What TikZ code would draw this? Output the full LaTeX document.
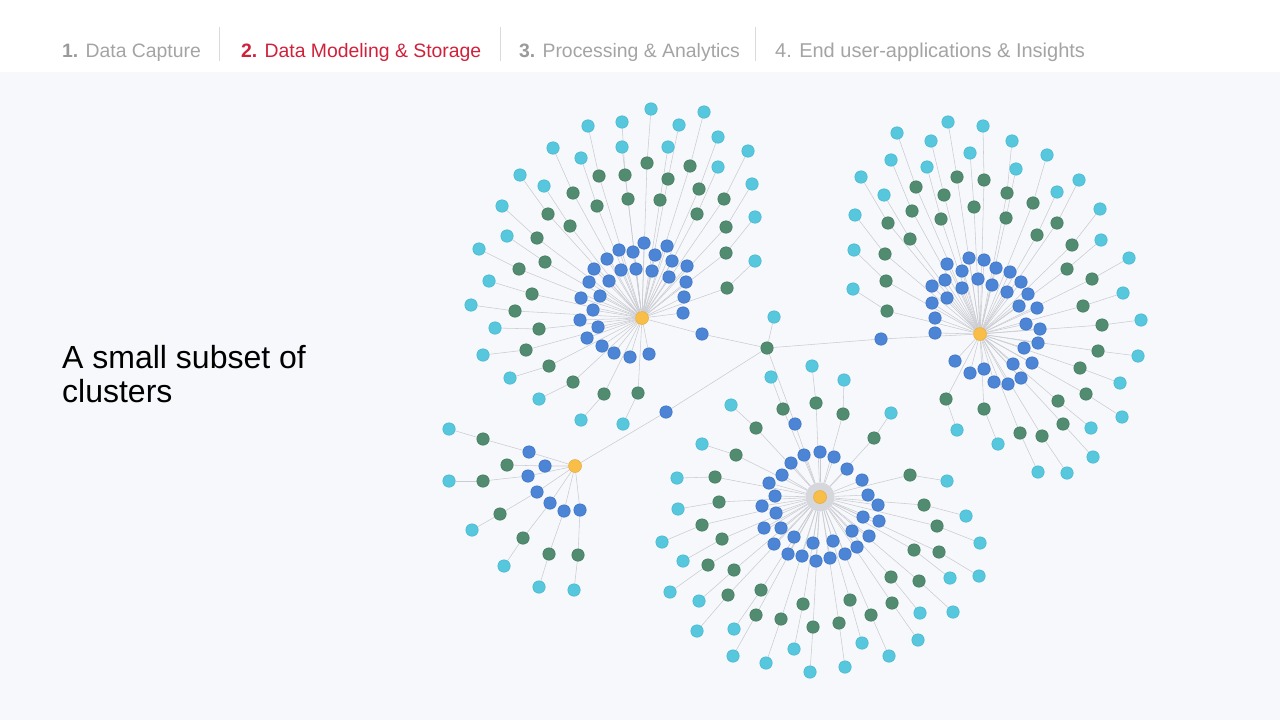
\documentclass[tikz,border=0pt]{standalone}
\usepackage{fontspec}
\setmainfont{Liberation Sans}
\pgfdeclarelayer{back}
\pgfdeclarelayer{edges}
\pgfsetlayers{back,edges,main}
\definecolor{bgc}{HTML}{F7F8FB}
\definecolor{bluen}{HTML}{4C84D6}
\definecolor{blueb}{HTML}{3D72C0}
\definecolor{greenn}{HTML}{528C70}
\definecolor{greenb}{HTML}{437A60}
\definecolor{tealn}{HTML}{57C7DD}
\definecolor{tealb}{HTML}{45B6CE}
\definecolor{yellown}{HTML}{F8BE48}
\definecolor{yellowb}{HTML}{E8AA35}
\definecolor{edgec}{HTML}{CACCD2}
\definecolor{haloc}{HTML}{D5D7DC}
\definecolor{tabgray}{HTML}{A4A4A4}
\definecolor{tabnum}{HTML}{9A9A9A}
\definecolor{tabred}{HTML}{D0213B}
\definecolor{sepc}{HTML}{DADADA}
\tikzset{
  nd/.style={circle,inner sep=0pt,minimum size=12.5pt,line width=0.5pt},
  bn/.style={nd,fill=bluen,draw=blueb},
  gn/.style={nd,fill=greenn,draw=greenb},
  tn/.style={nd,fill=tealn,draw=tealb},
  yn/.style={nd,fill=yellown,draw=yellowb,minimum size=13pt},
  ed/.style={draw=edgec,line width=0.55pt},
  tab/.style={anchor=base west,inner sep=0pt,font=\fontsize{19.4}{22}\selectfont,text=tabgray},
  sepline/.style={draw=sepc,line width=1pt},
  big/.style={anchor=base west,inner sep=0pt,font=\fontsize{32}{35}\selectfont,text=black}
}
\begin{document}
\begin{tikzpicture}[x=1pt,y=-1pt]
\useasboundingbox (0,0) rectangle (1280,720);
\begin{pgfonlayer}{back}
\fill[bgc] (0,0) rectangle (1280,720);
\fill[white] (0,0) rectangle (1280,72);
\end{pgfonlayer}
% header
\node[tab] (tab1) at (62,57) {\textbf{\color{tabnum}1.} Data Capture};
\node[tab,text=tabred] (tab2) at (241,57) {\textbf{2.} Data Modeling \& Storage};
\node[tab] (tab3) at (519,57) {\textbf{\color{tabnum}3.} Processing \& Analytics};
\node[tab,font=\fontsize{20}{22}\selectfont] (tab4) at (775,57) {4. End user-applications \& Insights};
\draw[sepline] (219,27) -- (219,61);
\draw[sepline] (500,27) -- (500,61);
\draw[sepline] (755,27) -- (755,61);
% left title
\node[big] (title1) at (62,368) {A small subset of};
\node[big] (title2) at (62,402) {clusters};

% ---------------- cluster A
\node[yn] (A) at (642,318) {};
\foreach \x/\y [count=\i] in {644/243,619/250,633/252,667/246,655/255,607/259,672/261,687/266,594/269,621/270,636/269,652/271,669/277,589/282,609/281,686/282,581/298,600/296,684/297,593/310,683/313,580/320,598/327,587/338,602/346,614/353,630/357,649/354}
  \node[bn] (Ab\i) at (\x,\y) {};
\foreach \gx/\gy/\tx/\ty [count=\i] in {647/163/651/109,690/166/704/112,599/176/588/126,625/175/622/122,628/199/622/147,668/179/679/125,660/200/668/147,699/189/718/137,697/214/718/167,724/199/748/151,573/193/553/148,597/206/581/158,548/214/520/175,570/226/544/186,726/227/752/184,537/238/502/206,545/262/507/236,726/253/755/217,519/269/479/249,727/288/755/261,532/294/489/281,515/311/471/305,539/329/495/328,526/350/483/355,549/366/510/378,573/382/539/399,604/394/581/420,638/393/623/424}
  {\node[gn] (Ag\i) at (\gx,\gy) {}; \node[tn] (At\i) at (\tx,\ty) {};}
\begin{pgfonlayer}{edges}
\foreach \i in {1,...,28} {\draw[ed] (A) -- (Ab\i); \draw[ed] (A) -- (Ag\i); \draw[ed] (Ag\i) -- (At\i);}
\end{pgfonlayer}

% ---------------- cluster B
\node[yn] (B) at (980,334) {};
\foreach \x/\y [count=\i] in {969/258,984/260,947/264,996/268,962/271,1010/272,978/279,945/280,992/285,1021/282,932/286,962/288,1007/292,1028/294,947/298,932/303,1019/306,1037/308,935/318,1026/324,1040/329,935/333,1024/348,1038/343,955/361,970/373,984/369,1013/364,1032/363,994/382,1008/384,1021/378}
  \node[bn] (Bb\i) at (\x,\y) {};
\foreach \gx/\gy/\tx/\ty [count=\i] in {957/177/948/122,984/180/983/126,916/187/897/133,944/195/931/141,1007/193/1012/141,974/207/970/153,1033/203/1047/155,912/211/891/160,941/219/927/167,1006/218/1016/169,888/223/861/177,910/239/884/195,1057/223/1079/180,1037/235/1057/192,1072/245/1100/209,885/254/855/215,1067/269/1101/240,886/281/854/250,1092/279/1129/258,887/311/853/289,1083/306/1123/293,1102/325/1141/320,1098/351/1138/356,1080/368/1120/383,1086/394/1122/417,1058/401/1091/428,1063/424/1093/457,1042/436/1067/473,1020/433/1038/472,984/409/998/444,946/399/957/430}
  {\node[gn] (Bg\i) at (\gx,\gy) {}; \node[tn] (Bt\i) at (\tx,\ty) {};}
\begin{pgfonlayer}{edges}
\foreach \i in {1,...,32} \draw[ed] (B) -- (Bb\i);
\foreach \i in {1,...,31} {\draw[ed] (B) -- (Bg\i); \draw[ed] (Bg\i) -- (Bt\i);}
\end{pgfonlayer}

% ---------------- cluster C
\node[circle,fill=haloc,inner sep=0pt,minimum size=29pt] (Ch) at (820,497) {};
\node[yn] (C) at (820,497) {};
\foreach \x/\y [count=\i] in {804/455,820/452,834/457,791/463,847/469,782/475,769/483,862/480,775/496,868/495,878/505,762/506,776/513,863/517,879/521,764/528,781/528,852/531,869/536,794/537,813/543,833/541,774/544,857/547,788/554,802/556,816/561,830/558,845/554}
  \node[bn] (Cb\i) at (\x,\y) {};
\foreach \gx/\gy/\tx/\ty [count=\i] in {783/409/771/377,816/403/812/366,843/414/844/380,756/428/731/405,874/438/891/413,736/455/702/444,910/475/947/481,715/477/677/478,924/505/966/516,719/502/678/509,937/526/980/543,702/525/662/542,914/550/950/578,939/552/979/576,722/539/683/561,708/565/670/592,734/570/699/601,891/577/920/613,919/581/953/612,728/595/697/631,761/590/734/629,892/603/918/640,850/600/862/643,871/615/889/656,803/604/794/649,756/615/733/656,781/619/766/663,839/623/845/667,813/627/810/672}
  {\node[gn] (Cg\i) at (\gx,\gy) {}; \node[tn] (Ct\i) at (\tx,\ty) {};}
\begin{pgfonlayer}{edges}
\foreach \i in {1,...,29} {\draw[ed] (Ch) -- (Cb\i); \draw[ed] (Ch) -- (Cg\i); \draw[ed] (Cg\i) -- (Ct\i);}
\end{pgfonlayer}

% ---------------- cluster D
\node[yn] (D) at (575,466) {};
\foreach \x/\y [count=\i] in {529/452,545/466,528/476,537/492,550/503,564/511,580/510}
  \node[bn] (Db\i) at (\x,\y) {};
\foreach \x/\y [count=\i] in {483/439,507/465,483/481,500/514,523/538,549/554,578/555}
  \node[gn] (Dg\i) at (\x,\y) {};
\node[tn] (Dt1) at (449,429) {};
\node[tn] (Dt3) at (449,481) {};
\node[tn] (Dt4) at (472,530) {};
\node[tn] (Dt5) at (504,566) {};
\node[tn] (Dt6) at (539,587) {};
\node[tn] (Dt7) at (574,590) {};
\begin{pgfonlayer}{edges}
\foreach \i in {1,...,7} \draw[ed] (D) -- (Db\i) -- (Dg\i);
\foreach \i in {1,3,4,5,6,7} \draw[ed] (Dg\i) -- (Dt\i);
\end{pgfonlayer}

% ---------------- hub and links
\node[gn] (H) at (767,348) {};
\node[tn] (HT) at (774,317) {};
\node[bn] (LA) at (702,334) {};
\node[bn] (LB) at (881,339) {};
\node[bn] (LC) at (795,424) {};
\node[bn] (LD) at (666,412) {};
\begin{pgfonlayer}{edges}
\draw[ed] (A) -- (LA) -- (H);
\draw[ed] (H) -- (LB) -- (B);
\draw[ed] (H) -- (LC) -- (Ch);
\draw[ed] (H) -- (LD) -- (D);
\draw[ed] (H) -- (HT);
\end{pgfonlayer}
\end{tikzpicture}
\end{document}
